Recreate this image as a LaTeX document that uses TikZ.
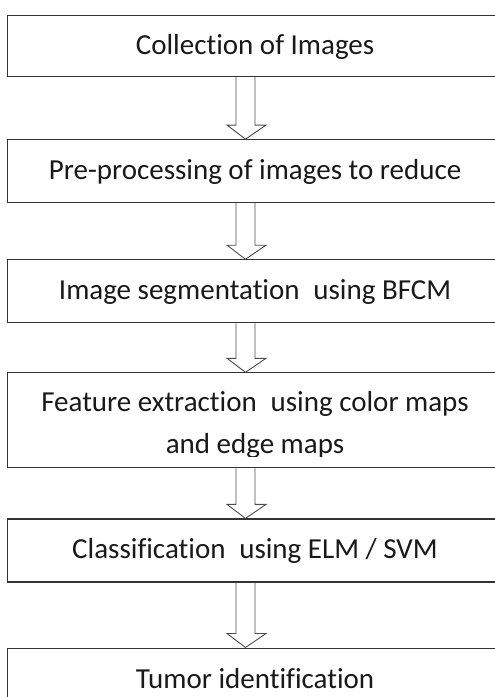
\documentclass[tikz,border=0pt]{standalone}
\usepackage{fontspec}
\setmainfont{Carlito}[Ligatures=NoCommon]
\usetikzlibrary{%
  positioning,%
  calc%
}
\tikzset{
  stagetext/.style={font=\fontsize{29}{42}\selectfont, text=black!90, text height=25pt, text depth=8pt},
  stage/.style={stagetext, draw=black!80, line width=1.1pt, rectangle, inner sep=0pt, minimum width=495pt, anchor=north west},
  hollow/.style={draw=black!70, line width=0.9pt, line join=miter}
}
\newcommand{\hollowarrow}[2]{%
\draw[hollow] ($(#1.south west)+(229,0)$) -- ($(#2.north west)+(229,14)$)
  -- ($(#2.north west)+(220,14)$) -- ($(#2.north west)+(238.5,0)$)
  -- ($(#2.north west)+(259,14)$) -- ($(#2.north west)+(248,14)$)
  -- ($(#1.south west)+(248,0)$);
}

\begin{document}
\begin{tikzpicture}[x=1pt,y=1pt]
\clip (0,0) rectangle (495,-697);

\node[stage, minimum height=61pt] (collect) at (7,-15) {Collection of Images};
\node[stage, minimum height=63pt, below=62pt of collect] (preproc) {Pre-processing of images to reduce};
\node[stage, minimum height=63pt, below=56pt of preproc] (segment) {Image segmentation\hspace{0.25em} using BFCM};
\node[stage, minimum height=95pt, below=49pt of segment] (feature) {};
\node[stage, minimum height=63pt, below=50pt of feature] (classify) {Classification\hspace{0.25em} using ELM / SVM};
\node[stage, minimum height=63pt, below=65pt of classify] (tumor) {Tumor identification};

\begin{scope}
\clip (feature.north west) rectangle ($(feature.south east)+(0,12)$);
\node[font=\fontsize{29}{42}\selectfont, text=black!90, align=center, inner sep=0pt, anchor=base] (featlabel)
  at ($(feature.north west)+(248,-81)$) {Feature extraction\hspace{0.25em} using color maps\\and edge maps};
\end{scope}

\hollowarrow{collect}{preproc}
\hollowarrow{preproc}{segment}
\hollowarrow{segment}{feature}
\hollowarrow{feature}{classify}
\hollowarrow{classify}{tumor}

\end{tikzpicture}
\end{document}
